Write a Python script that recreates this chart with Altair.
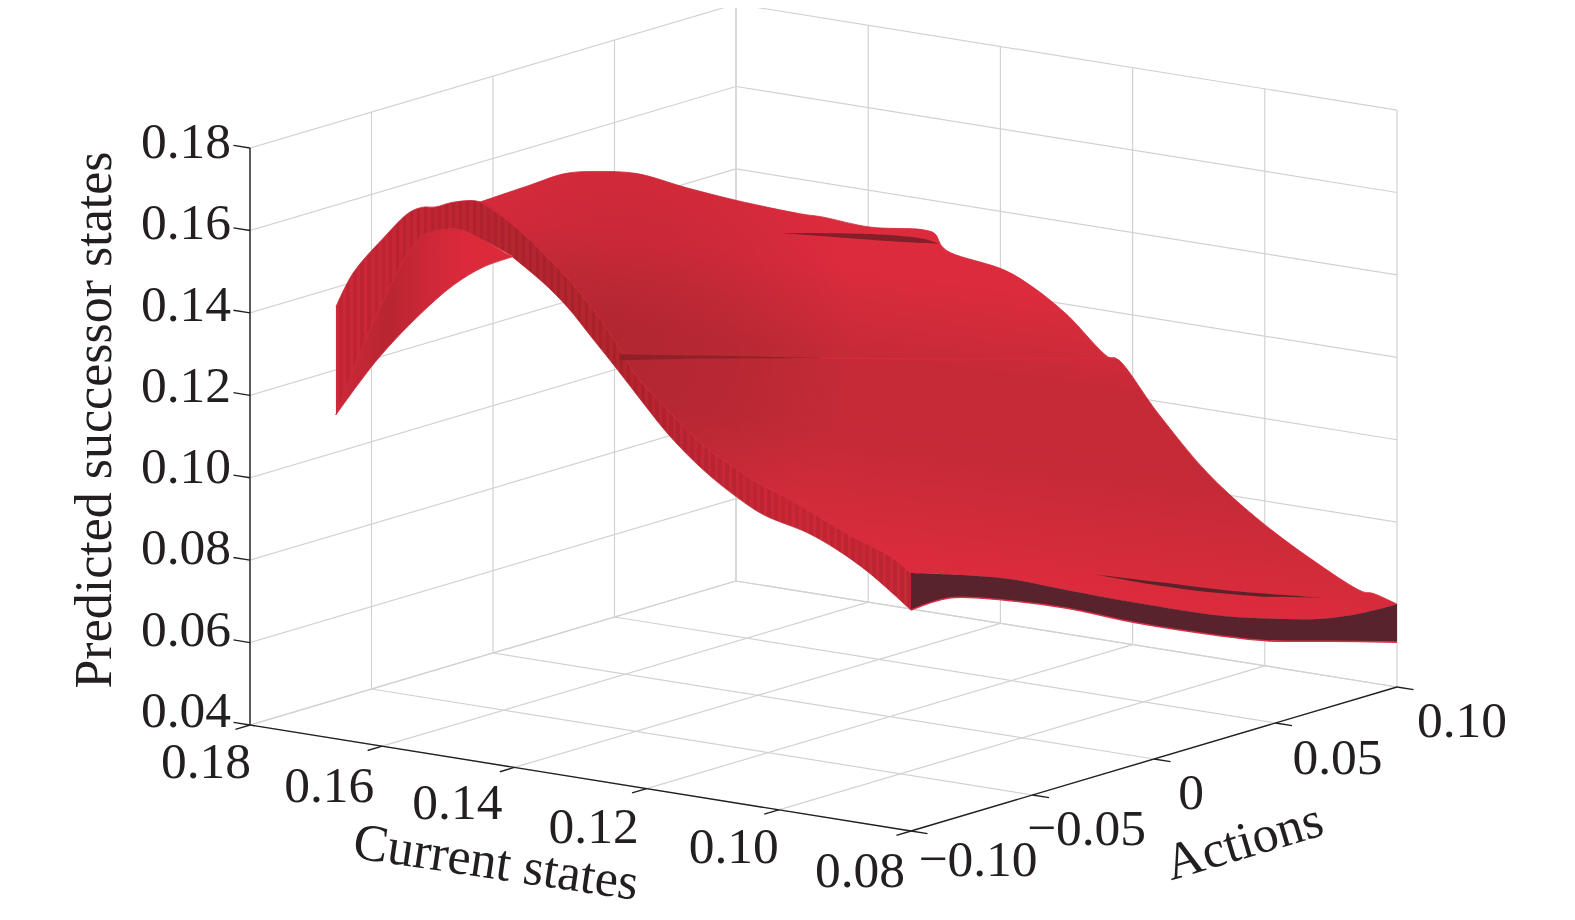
import altair as alt
import pandas as pd

# ---------- axis ticks ----------
CUR_TICKS = [0.18, 0.16, 0.14, 0.12, 0.10, 0.08]
ACT_TICKS = [-0.10, -0.05, 0.0, 0.05, 0.10]
Z_TICKS = [0.18, 0.16, 0.14, 0.12, 0.10, 0.08, 0.06, 0.04]
CUR_LABELS = ["0.18", "0.16", "0.14", "0.12", "0.10", "0.08"]
ACT_LABELS = ["\u22120.10", "\u22120.05", "0", "0.05", "0.10"]
Z_LABELS = ["0.18", "0.16", "0.14", "0.12", "0.10", "0.08", "0.06", "0.04"]

# ---------- surface: (current, action, value) ----------
# top sheet, far side at current = 0.167
EDGE_C167_A = [-0.0402, -0.0202, -0.0058, 0.0074, 0.0239, 0.0443, 0.0653, 0.0915, 0.10]
EDGE_C167_Z = [0.1599, 0.1604, 0.1607, 0.1589, 0.1555, 0.1485, 0.1417, 0.1339, 0.1317]
# top sheet, edge at action = 0.10
EDGE_A10_C = [0.1597, 0.1517, 0.1499, 0.1489, 0.1475, 0.1394, 0.1349, 0.13, 0.1235, 0.1223,
              0.1162, 0.1087, 0.1011, 0.0932, 0.0852, 0.0837, 0.08]
EDGE_A10_Z = [0.1311, 0.1325, 0.132, 0.1293, 0.128, 0.1259, 0.1227, 0.1176, 0.1087, 0.1087,
              0.0972, 0.0846, 0.0754, 0.0679, 0.0618, 0.0618, 0.0601]
# end cap at current = 0.08
CAP_TOP_A = [-0.1, -0.062, -0.0357, -0.008, 0.027, 0.0464, 0.0687, 0.0856, 0.1]
CAP_TOP_Z = [0.1026, 0.0947, 0.0872, 0.0794, 0.0701, 0.066, 0.062, 0.0605, 0.0601]
CAP_BOT_A = [-0.1, -0.0843, -0.062, -0.0357, -0.008, 0.027, 0.0464, 0.0737, 0.1]
CAP_BOT_Z = [0.0936, 0.0938, 0.0894, 0.0828, 0.0745, 0.0652, 0.0606, 0.0557, 0.0509]
# front side at action = -0.10
WALL_TOP_C = [0.167, 0.1644, 0.1598, 0.1558, 0.1538, 0.152, 0.1492, 0.1452, 0.1406, 0.1356, 0.1305,
              0.1255, 0.1214, 0.1168, 0.1118, 0.1068, 0.1032, 0.0982, 0.0932, 0.088, 0.0835, 0.08]
WALL_TOP_Z = [0.1448, 0.1537, 0.1634, 0.1707, 0.1724, 0.1729, 0.1748, 0.1759, 0.172, 0.1659, 0.1585,
              0.1491, 0.1395, 0.1327, 0.126, 0.1214, 0.1185, 0.1156, 0.1121, 0.1086, 0.1061, 0.1026]
INNER_C = [0.1644, 0.1603, 0.1558, 0.1538, 0.1486, 0.1447, 0.1403]
INNER_Z = [0.1302, 0.1465, 0.1615, 0.1656, 0.1684, 0.1668, 0.164]
LOWER_C = [0.167, 0.1608, 0.1547, 0.1492, 0.1447, 0.1403, 0.1356, 0.132, 0.128, 0.1244, 0.1205,
           0.1164, 0.1114, 0.1062, 0.1023, 0.0956, 0.0911, 0.0865, 0.08]
LOWER_Z = [0.1186, 0.1335, 0.1455, 0.1547, 0.1602, 0.1638, 0.1587, 0.1538, 0.1468, 0.1405, 0.1334,
           0.1263, 0.1195, 0.1141, 0.111, 0.1083, 0.1053, 0.1012, 0.0936]
# folds in the sheet
SLIT_END_UP_A = [-0.0241, 0.0035, 0.0315, 0.0703]
SLIT_END_UP_Z = [0.089, 0.0822, 0.0753, 0.0668]
SLIT_END_LO_A = [0.0456, 0.0175, -0.0035]
SLIT_END_LO_Z = [0.0714, 0.0778, 0.0832]
SLIT_BACK_UP_C = [0.1732, 0.1597, 0.1517, 0.1493]
SLIT_BACK_UP_Z = [0.1262, 0.1294, 0.1303, 0.1297]
SLIT_BACK_LO_C = [0.157, 0.1652]
SLIT_BACK_LO_Z = [0.1284, 0.1273]
CREASE_UP_C = [0.1241, 0.1118, 0.0936]
CREASE_UP_Z = [0.1443, 0.1472, 0.1513]
CREASE_LO_C = [0.1118, 0.1241]
CREASE_LO_Z = [0.1465, 0.1429]
RIDGE_C = [0.0936, 0.0767, 0.0491]
RIDGE_Z = [0.1513, 0.1554, 0.1627]


# ---------- fixed view of the box ----------
def px(c, a):
    return 250 + 6610 * (0.18 - c) + 2430 * (a + 0.1)


def py(c, a, z):
    return 725 + 1060 * (0.18 - c) - 720 * (a + 0.1) - 4121 * (z - 0.04)


def poly(points):
    return pd.DataFrame(
        [{"i": i, "x": px(c, a), "y": py(c, a, z)} for i, (c, a, z) in enumerate(points)]
    )


def join(*edges):
    """Chain edges into one outline; a repeated vertex keeps each join a sharp corner."""
    out = []
    for e in edges:
        e = list(e)
        out += [e[0]] + e + [e[-1]]
    return out


X = alt.X("x:Q", scale=alt.Scale(domain=[8, 1567], nice=False, zero=False), axis=None)
Y = alt.Y("y:Q", scale=alt.Scale(domain=[912, 8], nice=False, zero=False), axis=None)


def shape(points, fill, opacity=1.0, stroke=None, sw=0.0):
    kw = {"stroke": stroke, "strokeWidth": sw} if stroke else {"strokeWidth": 0, "strokeOpacity": 0}
    return alt.Chart(poly(points)).mark_line(
        fill=fill, fillOpacity=opacity, interpolate="catmull-rom", **kw
    ).encode(x=X, y=Y, order=alt.Order("i:Q"))


def segs(rows, color, width):
    df = pd.DataFrame(
        [{"x": px(c1, a1), "y": py(c1, a1, z1), "x2": px(c2, a2), "y2": py(c2, a2, z2)}
         for (c1, a1, z1), (c2, a2, z2) in rows]
    )
    return alt.Chart(df).mark_rule(color=color, strokeWidth=width).encode(
        x=X, y=Y, x2="x2:Q", y2="y2:Q"
    )


def texts(rows, size, angle=0):
    df = pd.DataFrame(rows, columns=["x", "y", "t"])
    return alt.Chart(df).mark_text(
        font="Liberation Serif", fontSize=size, color="#231f20", align="center",
        baseline="middle", angle=angle
    ).encode(x=X, y=Y, text="t:N")


# ---------- styles ----------
def mix(stops, t):
    for (t0, c0), (t1, c1) in zip(stops, stops[1:]):
        if t <= t1:
            f = (t - t0) / (t1 - t0)
            a = [int(c0[k:k + 2], 16) for k in (1, 3, 5)]
            b = [int(c1[k:k + 2], 16) for k in (1, 3, 5)]
            return [a[j] + (b[j] - a[j]) * f for j in range(3)]
    return [int(stops[-1][1][k:k + 2], 16) for k in (1, 3, 5)]


def hexc(rgb, k=1.0):
    return "#%02x%02x%02x" % tuple(int(max(0, min(255, v * k))) for v in rgb)


WALL_SHADE = [(0.0, "#cf2838"), (0.15, "#c42633"), (0.32, "#b42530"), (0.5, "#b5252e"),
              (0.63, "#c52736"), (0.8, "#cf2837"), (1.0, "#c92836")]
N = 164
wall_stops = []
for n in range(N):
    base = mix(WALL_SHADE, n / N)
    col = hexc(base, 1.0 if n % 2 == 0 else 0.93)
    wall_stops.append(alt.GradientStop(color=col, offset=n / N))
    wall_stops.append(alt.GradientStop(color=col, offset=(n + 1) / N))
wall_fill = alt.Gradient(gradient="linear", x1=0, y1=0, x2=1, y2=0, stops=wall_stops)

under_fill = alt.Gradient(
    gradient="linear", x1=0, y1=0, x2=1, y2=0,
    stops=[alt.GradientStop(color=c, offset=o) for c, o in
           [("#cc2838", 0), ("#b92530", 0.3), ("#d02838", 0.55), ("#dc2a3b", 0.75), ("#dc2a3b", 1)]],
)
top_fill = alt.Gradient(
    gradient="linear", x1=0.64, y1=0, x2=0.36, y2=1,
    stops=[alt.GradientStop(color=c, offset=o) for c, o in
           [("#db2638", 0), ("#db2638", 0.26), ("#d02635", 0.35), ("#c42532", 0.45), ("#c32532", 0.6),
            ("#cd2634", 0.72), ("#da2638", 0.85), ("#db2638", 1)]],
)
shade_fill = alt.Gradient(
    gradient="radial", x1=0.15, y1=0.43, x2=0.15, y2=0.43, r1=0, r2=0.26,
    stops=[alt.GradientStop(color="rgba(90,25,30,0.2)", offset=0),
           alt.GradientStop(color="rgba(90,25,30,0.12)", offset=0.5),
           alt.GradientStop(color="rgba(90,25,30,0)", offset=1)],
)

# ---------- box ----------
GRID = []
for c in CUR_TICKS:
    GRID.append(((c, -0.1, 0.04), (c, 0.1, 0.04)))
    GRID.append(((c, 0.1, 0.04), (c, 0.1, 0.18)))
for a in ACT_TICKS:
    GRID.append(((0.18, a, 0.04), (0.08, a, 0.04)))
    GRID.append(((0.18, a, 0.04), (0.18, a, 0.18)))
for z in Z_TICKS:
    GRID.append(((0.18, -0.1, z), (0.18, 0.1, z)))
    GRID.append(((0.18, 0.1, z), (0.08, 0.1, z)))

AXES = [((0.18, -0.1, 0.04), (0.18, -0.1, 0.18)),
        ((0.18, -0.1, 0.04), (0.08, -0.1, 0.04)),
        ((0.08, -0.1, 0.04), (0.08, 0.1, 0.04))]
TICKS = [((0.18, -0.1, z), (0.1825, -0.1, z)) for z in Z_TICKS]
TICKS += [((c, -0.1, 0.04), (c, -0.106, 0.04)) for c in CUR_TICKS]
TICKS += [((0.08, a, 0.04), (0.0775, a, 0.04)) for a in ACT_TICKS]

# ---------- sheets ----------
front_top = list(zip(WALL_TOP_C, [-0.1] * len(WALL_TOP_C), WALL_TOP_Z))
inner = list(zip(INNER_C, [-0.1] * len(INNER_C), INNER_Z))
lower = list(zip(LOWER_C, [-0.1] * len(LOWER_C), LOWER_Z))
start = lower[0]

under = join(lower[:6], inner[::-1][1:], [start])
wall = join(front_top, lower[5:][::-1], inner[::-1], [start])
top = join(
    [(0.167, a, z) for a, z in zip(EDGE_C167_A, EDGE_C167_Z)]
    + [(c, 0.1, z) for c, z in zip(EDGE_A10_C, EDGE_A10_Z)],
    [(0.08, a, z) for a, z in zip(CAP_TOP_A[::-1], CAP_TOP_Z[::-1])],
    front_top[7:][::-1],
)
cap = join(
    [(0.08, a, z) for a, z in zip(CAP_TOP_A, CAP_TOP_Z)],
    [(0.08, a, z) for a, z in zip(CAP_BOT_A[::-1], CAP_BOT_Z[::-1])],
)
slit_end = join(
    [(0.08, a, z) for a, z in zip(SLIT_END_UP_A, SLIT_END_UP_Z)],
    [(0.08, a, z) for a, z in zip(SLIT_END_LO_A, SLIT_END_LO_Z)],
)
slit_back = join(
    [(c, 0.1, z) for c, z in zip(SLIT_BACK_UP_C, SLIT_BACK_UP_Z)],
    [(c, 0.1, z) for c, z in zip(SLIT_BACK_LO_C, SLIT_BACK_LO_Z)],
)
crease = join(
    [(c, -0.1, z) for c, z in zip(CREASE_UP_C, CREASE_UP_Z)],
    [(c, -0.1, z) for c, z in zip(CREASE_LO_C, CREASE_LO_Z)],
)
ridge = alt.Chart(poly([(c, -0.1, z) for c, z in zip(RIDGE_C, RIDGE_Z)])).mark_line(
    color="#d92a3a", strokeWidth=1.5
).encode(x=X, y=Y, order=alt.Order("i:Q"))
cap_edge = alt.Chart(
    poly([(0.08, a, z) for a, z in zip(CAP_BOT_A, CAP_BOT_Z)])
).mark_line(color="#d8314a", strokeWidth=1.6, interpolate="catmull-rom").encode(
    x=X, y=Y, order=alt.Order("i:Q")
)

# ---------- labels ----------
cur_nudge = [(-44, 38), (-53, 41), (-57, 37), (-53, 39), (-45, 38), (-51, 41)]
act_nudge = [(67, 30), (54, 35), (37, 35), (62, 36), (65, 35)]
z_rows = [(186, py(0.18, -0.1, z) - 5 - 8 * (0.18 - z) / 0.14, t) for z, t in zip(Z_TICKS, Z_LABELS)]
cur_rows = [(px(c, -0.1) + d[0], py(c, -0.1, 0.04) + d[1], t)
            for c, d, t in zip(CUR_TICKS, cur_nudge, CUR_LABELS)]
act_rows = [(px(0.08, a) + d[0], py(0.08, a, 0.04) + d[1], t)
            for a, d, t in zip(ACT_TICKS, act_nudge, ACT_LABELS)]

chart = alt.layer(
    segs(GRID, "#d2d2d2", 1.2),
    shape(under, under_fill, stroke="#cf2838", sw=0.8),
    shape(wall, wall_fill, stroke="#c62737", sw=0.8),
    shape(top, top_fill, opacity=0.975, stroke="#d02838", sw=0.8),
    shape(top, shade_fill),
    shape(crease, "#8a2027", opacity=0.85),
    ridge,
    shape(slit_back, "#7d1f27", opacity=0.95),
    shape(cap, "#55202a", opacity=0.985),
    cap_edge,
    shape(slit_end, "#5a2229"),
    segs(AXES, "#231f20", 1.4),
    segs(TICKS, "#231f20", 1.4),
    texts(z_rows + cur_rows + act_rows, 51.5),
    texts([(95, 420, "Predicted successor states")], 52, 270),
    texts([(496, 863, "Current states")], 52, 8.5),
    texts([(1244, 842, "Actions")], 52, 343.4),
).properties(
    width=1559, height=904, padding=0, autosize=alt.AutoSizeParams(type="none")
).configure_view(stroke=None)

chart.save("out.html", embed_options={"renderer": "svg", "actions": False})
